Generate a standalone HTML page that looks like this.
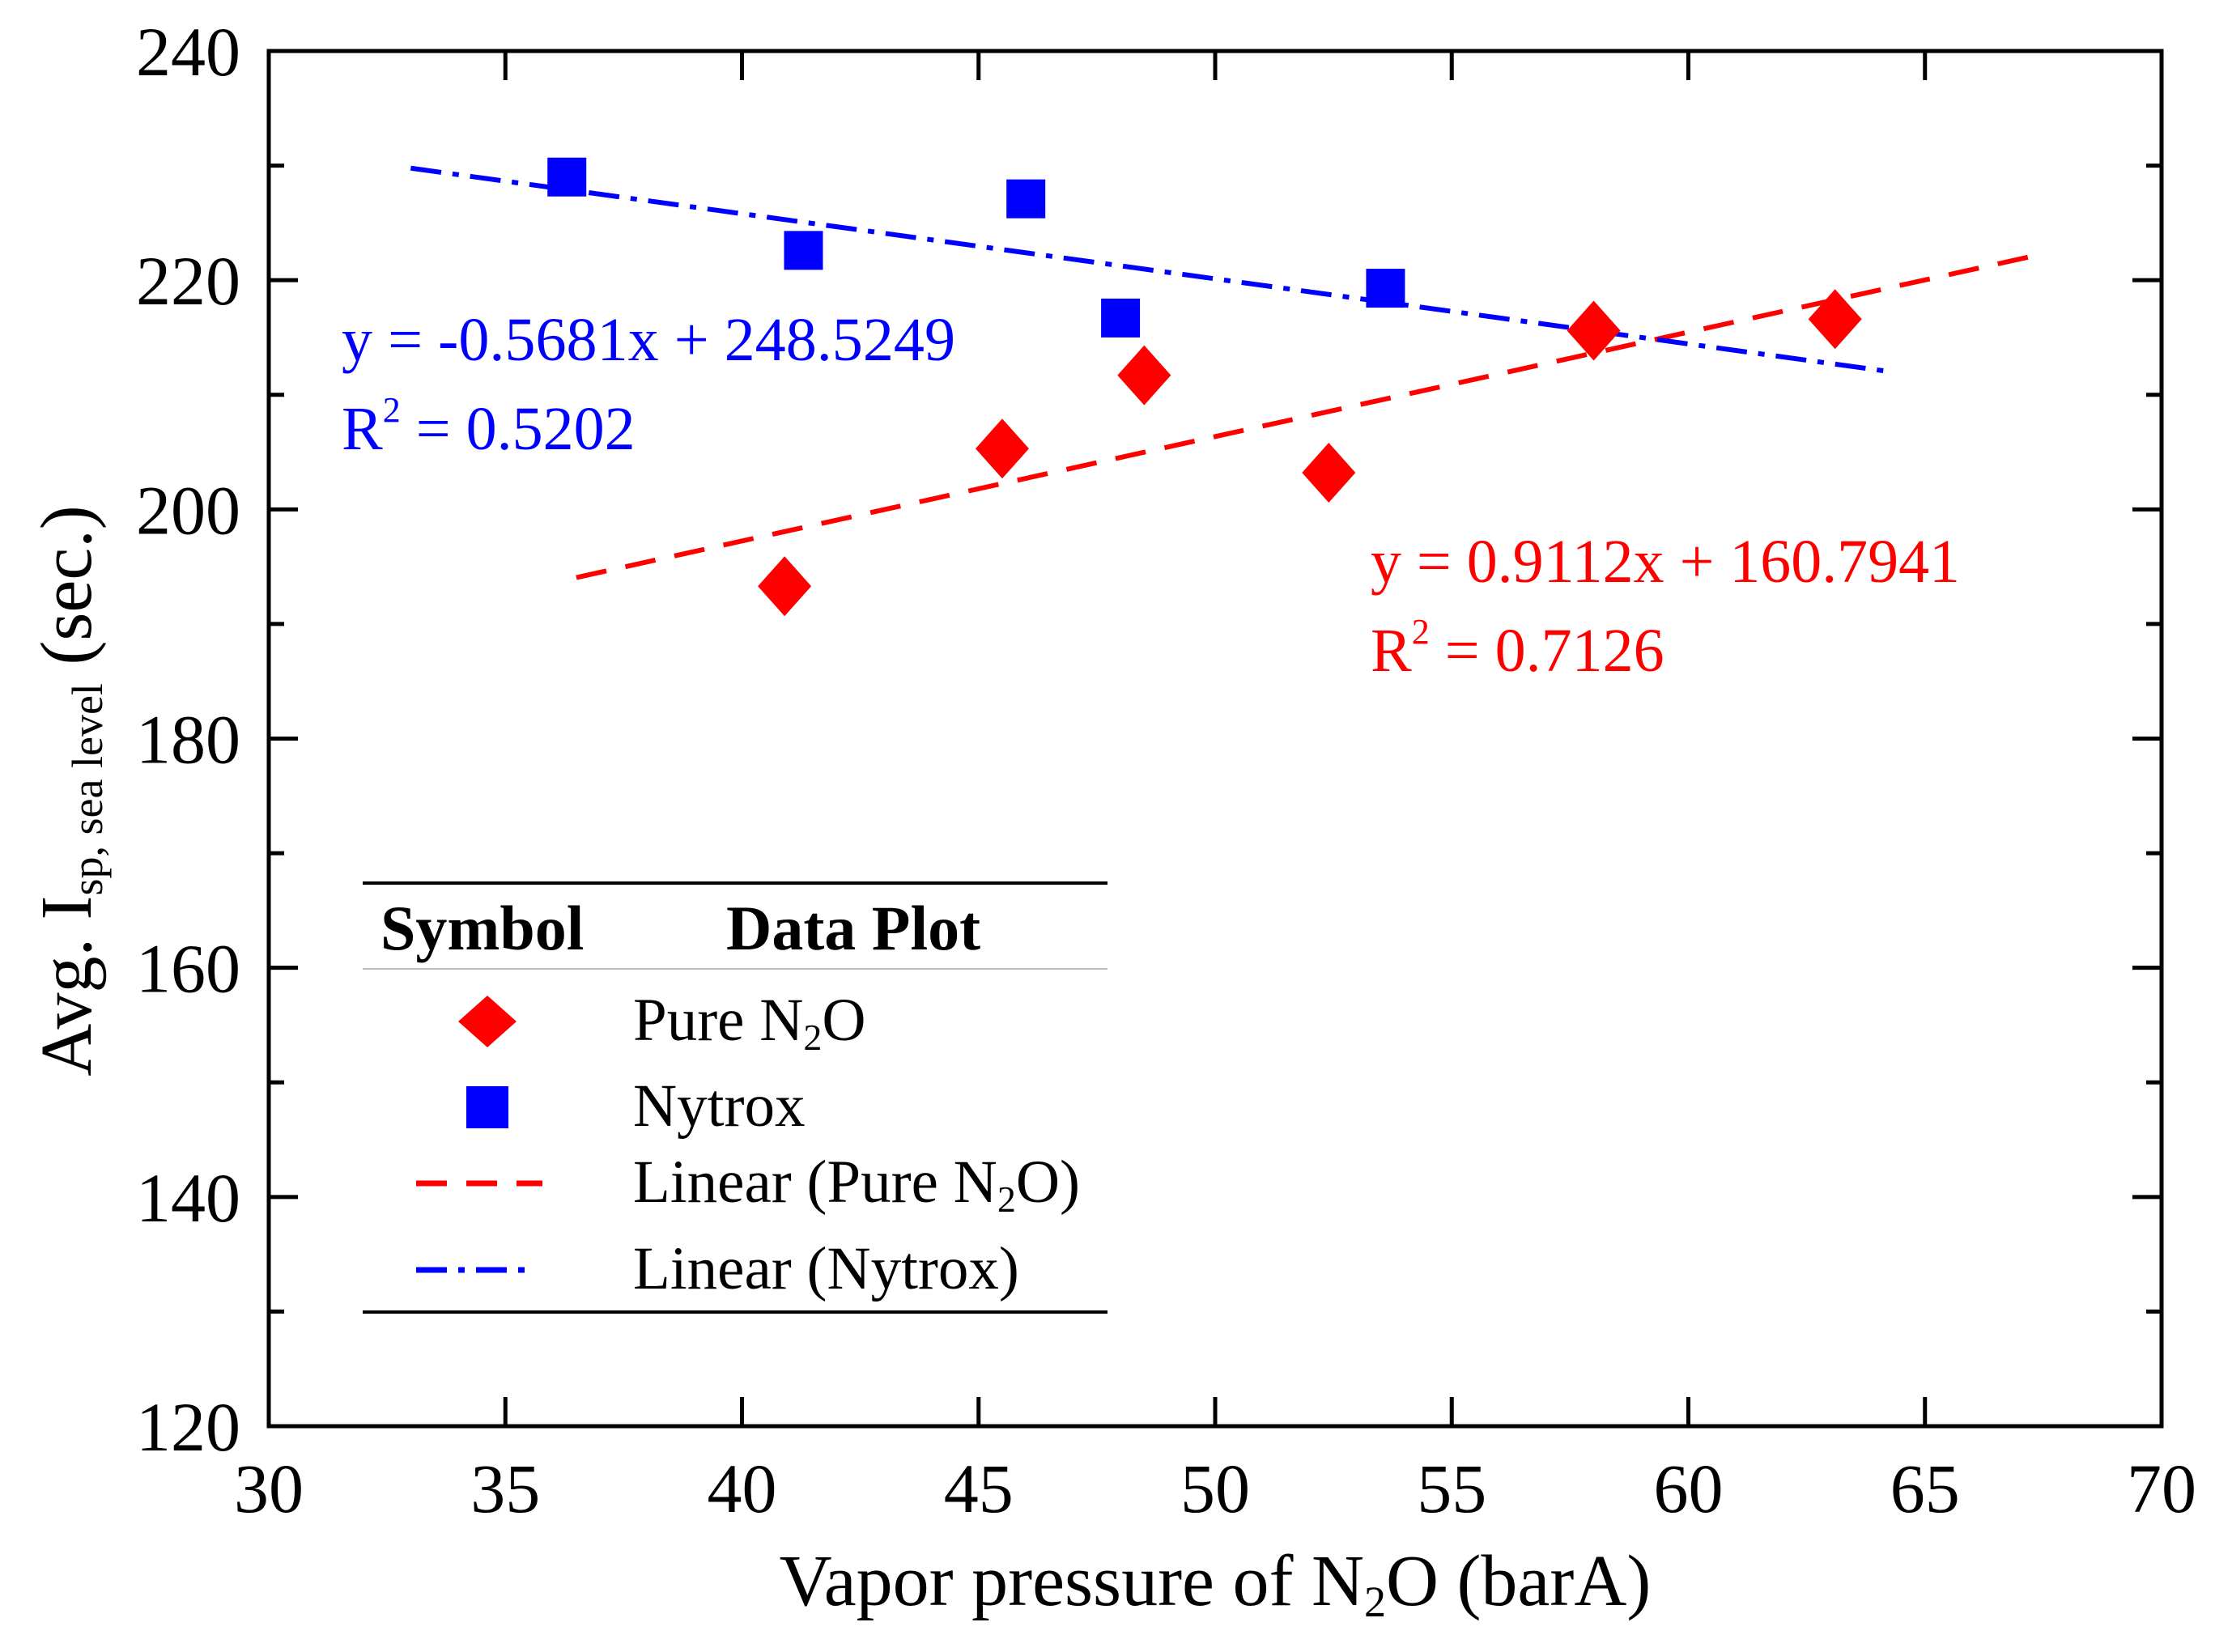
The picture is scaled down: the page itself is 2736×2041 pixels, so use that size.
<!DOCTYPE html>
<html><head><meta charset="utf-8"><style>
html,body{margin:0;padding:0;background:#fff;}
svg{display:block;font-family:"Liberation Serif",serif;}
</style></head><body>
<svg id="chart" width="2736" height="2041" viewBox="0 0 2736 2041" xmlns="http://www.w3.org/2000/svg">
<g id="axes"></g>
<g id="marks"></g>
<g fill="#0000ff" font-size="76">
<text x="422" y="445" textLength="758" lengthAdjust="spacingAndGlyphs">y = -0.5681x + 248.5249</text>
<text x="422" y="555">R<tspan font-size="44" dy="-34">2</tspan><tspan dy="34"> = 0.5202</tspan></text>
</g>
<g fill="#ff0000" font-size="76">
<text x="1693" y="719" textLength="728" lengthAdjust="spacingAndGlyphs">y = 0.9112x + 160.7941</text>
<text x="1693" y="829">R<tspan font-size="44" dy="-34">2</tspan><tspan dy="34"> = 0.7126</tspan></text>
</g>
<g>
<line x1="448" y1="1091" x2="1368" y2="1091" stroke="#000" stroke-width="4"/>
<line x1="448" y1="1197" x2="1368" y2="1197" stroke="#bbb" stroke-width="2"/>
<line x1="448" y1="1621" x2="1368" y2="1621" stroke="#000" stroke-width="4"/>
<text x="470" y="1173" font-size="78" font-weight="bold">Symbol</text>
<text x="897" y="1173" font-size="78" font-weight="bold">Data Plot</text>
<polygon points="602,1230 638,1262 602,1294 566,1262" fill="#ff0000"/>
<rect x="576" y="1342" width="52" height="52" fill="#0000ff"/>
<line x1="514" y1="1462" x2="670" y2="1462" stroke="#ff0000" stroke-width="7" stroke-dasharray="38,24"/>
<line x1="514" y1="1569" x2="652" y2="1569" stroke="#0000ff" stroke-width="7" stroke-dasharray="38,14,8,14"/>
<g font-size="75">
<text x="782" y="1285">Pure N<tspan font-size="46" dy="12">2</tspan><tspan dy="-12">O</tspan></text>
<text x="782" y="1391">Nytrox</text>
<text x="782" y="1485">Linear (Pure N<tspan font-size="46" dy="12">2</tspan><tspan dy="-12">O)</tspan></text>
<text x="782" y="1592">Linear (Nytrox)</text>
</g>
</g>
<text x="1501" y="1983" font-size="90" text-anchor="middle">Vapor pressure of N<tspan font-size="54" dy="14">2</tspan><tspan dy="-14">O (barA)</tspan></text>
<text transform="translate(112,977) rotate(-90)" font-size="90" text-anchor="middle">Avg. I<tspan font-size="54" dy="14">sp, sea level</tspan><tspan dy="-14"> (sec.)</tspan></text>
</svg>
<script>
const xTicks=[30,35,40,45,50,55,60,65,70];
const yTicks=[120,140,160,180,200,220,240];
const nytroxX=[36.3,41.3,46.0,48.0,53.6];
const nytroxY=[229.0,222.6,227.1,216.7,219.3];
const pureX=[40.9,45.5,48.5,52.4,58.0,63.1];
const pureY=[193.3,205.3,211.7,203.2,215.6,216.6];
const nytroxFit=[-0.5681,248.5249];
const nytroxFitRange=[33,64.3];
const pureFit=[0.9112,160.7941];
const pureFitRange=[36.5,67.5];
const L=332,R=2670,T=63,B=1762;
const sx=v=>L+(v-30)/40*(R-L);
const sy=v=>B-(v-120)/120*(B-T);
const NS='http://www.w3.org/2000/svg';
function mk(p,tag,a){const e=document.createElementNS(NS,tag);for(const k in a)e.setAttribute(k,a[k]);p.appendChild(e);return e;}
const ax=document.getElementById('axes'),mg=document.getElementById('marks');
const frame=mk(ax,'rect',{x:L,y:T,width:R-L,height:B-T,fill:'none',stroke:'#000','stroke-width':5});


xTicks.forEach(v=>{const x=sx(v);
 mk(ax,'line',{x1:x,y1:B,x2:x,y2:B-36,stroke:'#000','stroke-width':5});
 mk(ax,'line',{x1:x,y1:T,x2:x,y2:T+36,stroke:'#000','stroke-width':5});
 const t=mk(ax,'text',{x:x,y:1868,'font-size':86,'text-anchor':'middle'});t.textContent=v;
 
 
});
yTicks.forEach((v,i)=>{const y=sy(v);
 mk(ax,'line',{x1:L,y1:y,x2:L+36,y2:y,stroke:'#000','stroke-width':5});
 mk(ax,'line',{x1:R,y1:y,x2:R-36,y2:y,stroke:'#000','stroke-width':5});
 if(i<yTicks.length-1){const ym=sy(v+10);
  mk(ax,'line',{x1:L,y1:ym,x2:L+19,y2:ym,stroke:'#000','stroke-width':5});
  mk(ax,'line',{x1:R,y1:ym,x2:R-19,y2:ym,stroke:'#000','stroke-width':5});}
 const t=mk(ax,'text',{x:297,y:y+30,'font-size':86,'text-anchor':'end'});t.textContent=v;
 
 
});
const pl=mk(mg,'line',{x1:sx(pureFitRange[0]),y1:sy(pureFit[0]*pureFitRange[0]+pureFit[1]),x2:sx(pureFitRange[1]),y2:sy(pureFit[0]*pureFitRange[1]+pureFit[1]),stroke:'#ff0000','stroke-width':6,'stroke-dasharray':'38,24'});


const nl=mk(mg,'line',{x1:sx(nytroxFitRange[0]),y1:sy(nytroxFit[0]*nytroxFitRange[0]+nytroxFit[1]),x2:sx(nytroxFitRange[1]),y2:sy(nytroxFit[0]*nytroxFitRange[1]+nytroxFit[1]),stroke:'#0000ff','stroke-width':6,'stroke-dasharray':'38,14,8,14'});


nytroxX.forEach((v,i)=>{const x=sx(v),y=sy(nytroxY[i]);
 const r=mk(mg,'rect',{x:x-24,y:y-24,width:48,height:48,fill:'#0000ff'});
 
 
});
pureX.forEach((v,i)=>{const x=sx(v),y=sy(pureY[i]);
 const p=mk(mg,'polygon',{points:`${x},${y-37} ${x+33},${y} ${x},${y+37} ${x-33},${y}`,fill:'#ff0000'});
 
 
});
</script>
</body></html>
